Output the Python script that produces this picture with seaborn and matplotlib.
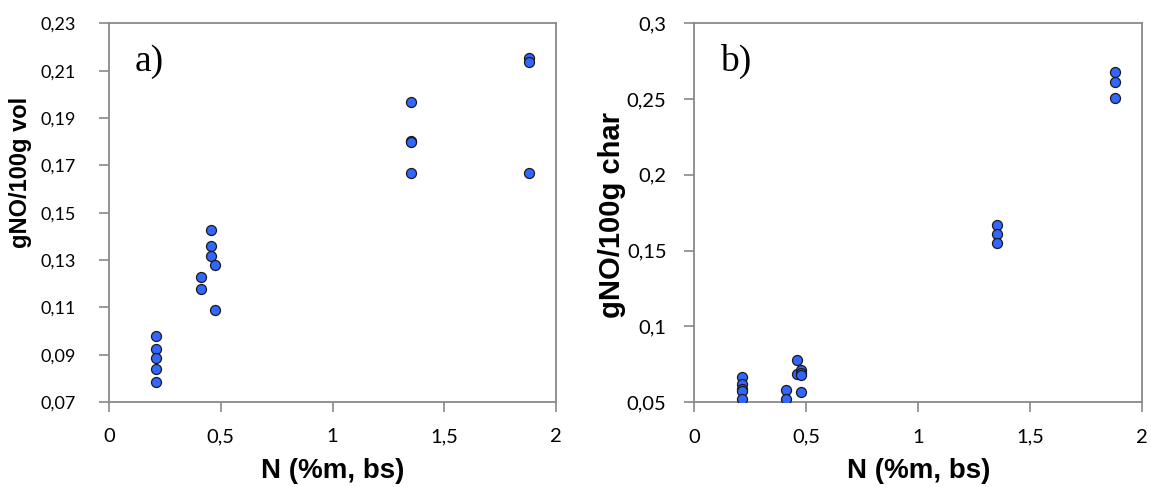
import matplotlib
matplotlib.use("Agg")
import matplotlib.pyplot as plt
import pandas as pd
import seaborn as sns

# Panel a) NO yield referred to volatiles
n_vol = [0.21, 0.21, 0.21, 0.21, 0.21,
         0.41, 0.41,
         0.455, 0.455, 0.455,
         0.473, 0.473,
         1.35, 1.35, 1.35, 1.35,
         1.88, 1.88, 1.88]
no_vol = [0.0979, 0.0924, 0.0885, 0.0841, 0.0784,
          0.1227, 0.1176,
          0.1425, 0.1360, 0.1317,
          0.1278, 0.1090,
          0.1967, 0.1803, 0.1797, 0.1666,
          0.2152, 0.2135, 0.1667]

# Panel b) NO yield referred to char
n_char = [0.215, 0.215, 0.215, 0.215, 0.215,
          0.41, 0.41,
          0.457, 0.457,
          0.476, 0.476, 0.476, 0.476,
          1.35, 1.35, 1.35,
          1.88, 1.88, 1.88]
no_char = [0.0668, 0.0620, 0.0590, 0.0575, 0.0522,
           0.0581, 0.0522,
           0.0776, 0.0684,
           0.0712, 0.0695, 0.0680, 0.0570,
           0.1671, 0.1612, 0.1553,
           0.2675, 0.2614, 0.2504]

x_ticks = [0, 0.5, 1, 1.5, 2]
y_ticks_a = [0.07, 0.09, 0.11, 0.13, 0.15, 0.17, 0.19, 0.21, 0.23]
y_ticks_b = [0.05, 0.10, 0.15, 0.20, 0.25, 0.30]

sns.set_theme(style="white")
plt.rcParams["font.family"] = ["Lato", "DejaVu Sans"]

GREY = "#898989"
FILL = "#3366ff"


def comma(v, dec):
    s = f"{v:.{dec}f}".rstrip("0").rstrip(".") if dec else f"{v:g}"
    return s.replace(".", ",")


fig = plt.figure(figsize=(11.51, 4.87), dpi=100)
ax_a = fig.add_axes([0.0947, 0.1745, 0.3884, 0.7776])
ax_b = fig.add_axes([0.6032, 0.1740, 0.3892, 0.7787])

df_a = pd.DataFrame({"N": n_vol, "NO": no_vol})
df_b = pd.DataFrame({"N": n_char, "NO": no_char})

panels = [
    (ax_a, df_a, y_ticks_a, (0.07, 0.23), "gNO/100g vol", 17, 13, 17, "a)"),
    (ax_b, df_b, y_ticks_b, (0.05, 0.30), "gNO/100g char", 21, 14.5, 13, "b)"),
]

for ax, df, yt, ylim, ylab, ysize, ytsize, ypad, tag in panels:
    sns.scatterplot(data=df, x="N", y="NO", ax=ax, s=52, color=FILL,
                    edgecolor="#1a1a1a", linewidth=0.9, zorder=3, legend=False)
    ax.set_xlim(0, 2)
    ax.set_ylim(*ylim)
    ax.set_xticks(x_ticks)
    ax.set_xticklabels([comma(v, 1) for v in x_ticks], fontsize=14.5)
    ax.set_yticks(yt)
    ax.set_yticklabels([comma(v, 2) for v in yt], fontsize=ytsize)
    ax.tick_params(axis="both", direction="out", length=7, width=1.2,
                   color=GREY, labelcolor="#000000",
                   bottom=True, left=True)
    ax.tick_params(axis="x", pad=12)
    ax.tick_params(axis="y", pad=ypad)
    for sp in ax.spines.values():
        sp.set_visible(True)
        sp.set_color(GREY)
        sp.set_linewidth(1.3)
    ax.set_xlabel("N (%m, bs)", fontsize=20, fontweight="bold",
                  family="Liberation Sans", color="#000000")
    ax.set_ylabel(ylab, fontsize=ysize, fontweight="bold",
                  family="Liberation Sans", color="#000000")
    ax.xaxis.label.set_va("center")
    ax.yaxis.label.set_va("center")
    ax.yaxis.label.set_ha("center")
    ax.text(0.057, 0.898, tag, transform=ax.transAxes, fontsize=27,
            family="Liberation Serif", ha="left", va="center",
            color="#000000")

ax_a.yaxis.set_label_coords(-0.199, 0.607)
ax_b.yaxis.set_label_coords(-0.183, 0.494)
ax_a.xaxis.set_label_coords(0.5, -0.182)
ax_b.xaxis.set_label_coords(0.5, -0.182)

fig.savefig("out.png", dpi=100, facecolor="white")
